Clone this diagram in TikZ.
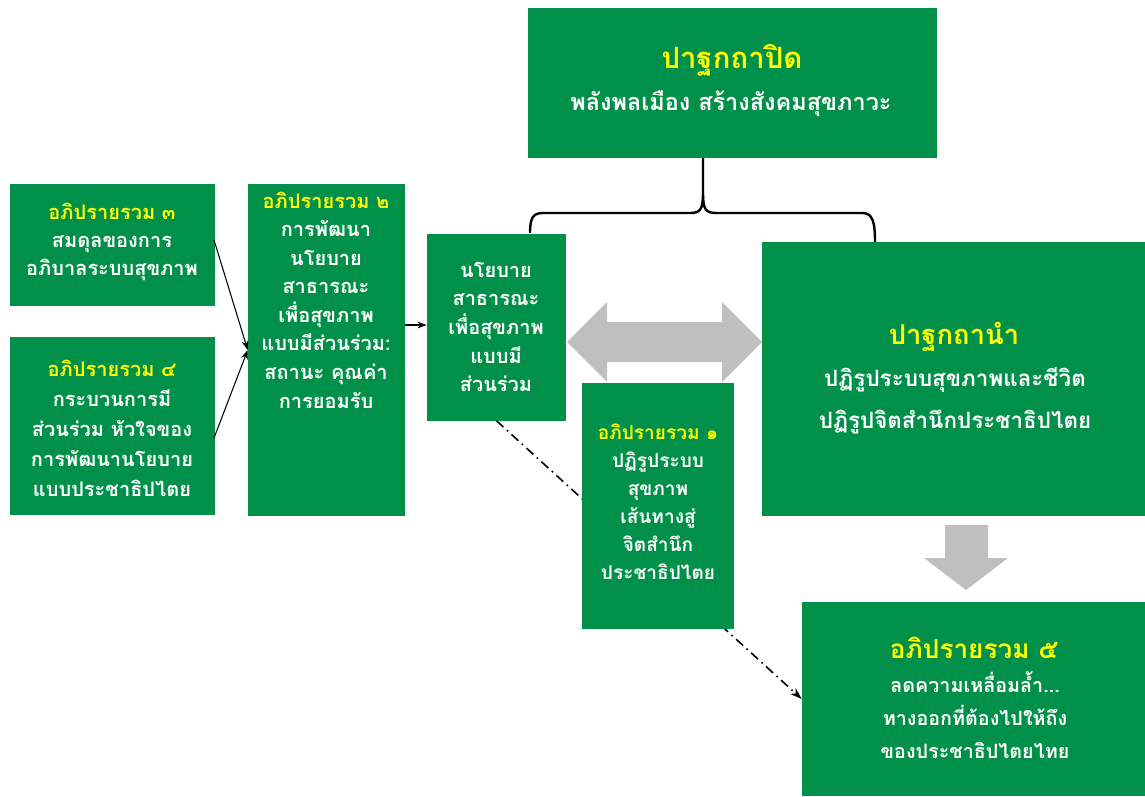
\documentclass[tikz,border=0pt]{standalone}
\usepackage{fontspec}
\setmainfont[Script=Thai]{Loma}
\usetikzlibrary{arrows.meta}
\definecolor{boxgreen}{RGB}{0,144,73}
\definecolor{ttlyellow}{RGB}{255,255,0}
\definecolor{arrowgray}{RGB}{191,191,191}
\pgfdeclarelayer{bg}
\pgfsetlayers{bg,main}
\tikzset{
  gbox/.style={fill=boxgreen, draw=none, rectangle, inner sep=0pt, anchor=center},
  txt/.style={text=white, align=center, inner sep=0pt, anchor=center},
  ttl/.style={text=ttlyellow},
  thinarrow/.style={-{Stealth[length=7pt,width=5pt]}, line width=0.8pt, black},
  dashdotarrow/.style={-{Stealth[length=9pt,width=6pt]}, line width=1.2pt, black, dash pattern=on 7pt off 3.5pt on 1.2pt off 3.5pt},
  bracestyle/.style={line width=1.8pt, black},
  grayarrow/.style={fill=arrowgray, draw=none}
}
\newcommand{\fsz}[2]{\fontsize{#1}{#2}\selectfont}
\begin{document}
\begin{tikzpicture}[x=0.75pt,y=-0.75pt]
\useasboundingbox (0,0) rectangle (1145,796);
% boxes
\node[gbox, minimum width=409*0.75pt, minimum height=150*0.75pt] (top) at (732.5,83) {};
\node[gbox, minimum width=205*0.75pt, minimum height=122*0.75pt] (b3) at (112.5,245) {};
\node[gbox, minimum width=205*0.75pt, minimum height=178*0.75pt] (b4) at (112.5,426) {};
\node[gbox, minimum width=157*0.75pt, minimum height=332*0.75pt] (b2) at (326.5,350) {};
\node[gbox, minimum width=139*0.75pt, minimum height=187*0.75pt] (ctr) at (496.5,327) {};
\node[gbox, minimum width=152*0.75pt, minimum height=246*0.75pt] (b1) at (658,506) {};
\node[gbox, minimum width=383*0.75pt, minimum height=274*0.75pt] (lead) at (953.5,379) {};
\node[gbox, minimum width=343*0.75pt, minimum height=194*0.75pt] (b5) at (973.5,699) {};
% texts
\node[txt, ttl, font=\fsz{22}{26}\bfseries] (topttl) at (732,60) {ปาฐกถาปิด};
\node[txt, font=\fsz{17.6}{22}\bfseries] (topbody) at (731,104) {พลังพลเมือง สร้างสังคมสุขภาวะ};
\node[txt, font=\fsz{15}{21}\bfseries] (b3t) at (112,242) {\textcolor{ttlyellow}{อภิปรายรวม ๓}\\สมดุลของการ\\อภิบาลระบบสุขภาพ};
\node[txt, font=\fsz{15}{22.5}\bfseries] (b4t) at (112,428) {\textcolor{ttlyellow}{อภิปรายรวม ๔}\\กระบวนการมี\\ส่วนร่วม หัวใจของ\\การพัฒนานโยบาย\\แบบประชาธิปไตย};
\node[txt, font=\fsz{15}{21.4}\bfseries] (b2t) at (326,300) {\textcolor{ttlyellow}{อภิปรายรวม ๒}\\การพัฒนา\\นโยบาย\\สาธารณะ\\เพื่อสุขภาพ\\แบบมีส่วนร่วม:\\สถานะ คุณค่า\\การยอมรับ};
\node[txt, font=\fsz{15}{21.5}\bfseries] (ctrt) at (496,327) {นโยบาย\\สาธารณะ\\เพื่อสุขภาพ\\แบบมี\\ส่วนร่วม};
\node[txt, font=\fsz{14.3}{21}\bfseries] (b1t) at (658,502) {\textcolor{ttlyellow}{อภิปรายรวม ๑}\\ปฏิรูประบบ\\สุขภาพ\\เส้นทางสู่\\จิตสำนึก\\ประชาธิปไตย};
\node[txt, ttl, font=\fsz{20.5}{24}\bfseries] (leadttl) at (954,337) {ปาฐกถานำ};
\node[txt, font=\fsz{16.8}{31.5}\bfseries] (leadbody) at (955,401) {ปฏิรูประบบสุขภาพและชีวิต\\ปฏิรูปจิตสำนึกประชาธิปไตย};
\node[txt, ttl, font=\fsz{19.6}{24}\bfseries] (b5ttl) at (974,648) {อภิปรายรวม ๕};
\node[txt, font=\fsz{14.8}{24.75}\bfseries] (b5body) at (975,715) {ลดความเหลื่อมล้ำ...\\ทางออกที่ต้องไปให้ถึง\\ของประชาธิปไตยไทย};
% brace
\coordinate (bt) at (703,158);
\coordinate (bl) at (530,233);
\coordinate (br) at (875,242);
\draw[bracestyle] (bt) -- (703,193) .. controls (703,210) and (700,213) .. (690,213) -- (543,213) .. controls (533,213) and (530,218) .. (bl);
\draw[bracestyle] (703,193) .. controls (703,210) and (706,213) .. (716,213) -- (862,213) .. controls (872,213) and (875,220) .. (br);
% gray arrows
\path[grayarrow] (567,342) -- (607,302) -- (607,322) -- (722,322) -- (722,302) -- (762,342) -- (722,382) -- (722,362) -- (607,362) -- (607,382) -- cycle;
\path[grayarrow] (945,525) -- (988,525) -- (988,558) -- (1008,558) -- (966,590) -- (924,558) -- (945,558) -- cycle;
% connectors
\coordinate (b3out) at (214,240);
\coordinate (b4out) at (214,438);
\draw[thinarrow] (b3out) -- (b2.west);
\draw[thinarrow] (b4out) -- (b2.west);
\draw[thinarrow] (b2.east |- 0,325) -- (ctr.west |- 0,325);
\begin{pgfonlayer}{bg}
\draw[dashdotarrow] (ctr.south) -- (b5.west);
\end{pgfonlayer}
\end{tikzpicture}
\end{document}
